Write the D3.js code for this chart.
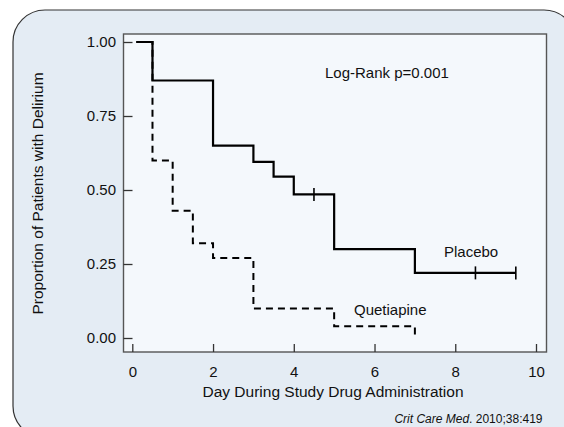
<!DOCTYPE html>
<html>
<head>
<meta charset="utf-8">
<script src="https://cdn.jsdelivr.net/npm/d3@7"></script>
<style>
    body { margin: 0; background: #fff; }
    text { font-family: Helvetica, Arial, "Liberation Sans", sans-serif; fill: #111; }
</style>
</head>
<body>
<div id="container"></div>
<script>
    // Kaplan-Meier steps
    const placeboDays = [0.1, 0.5, 2, 3, 3.5, 4, 5, 7, 9.5];
    const placeboProp = [1.0, 0.87, 0.65, 0.595, 0.545, 0.485, 0.30, 0.22, 0.22];
    const placeboCensorDays = [4.5, 8.5, 9.5];
    const placeboCensorProp = [0.485, 0.22, 0.22];

    const quetiapineDays = [0.1, 0.5, 1, 1.5, 2, 3, 5, 7];
    const quetiapineProp = [1.0, 0.60, 0.43, 0.32, 0.27, 0.10, 0.04, 0.0];

    const xTicks = [0, 2, 4, 6, 8, 10];
    const yTicks = [0, 0.25, 0.5, 0.75, 1];

    const width = 564, height = 427;

    const svg = d3.select("#container").append("svg")
        .attr("width", width)
        .attr("height", height);

    // rounded panel behind everything
    svg.append("rect")
        .attr("x", 13).attr("y", 10)
        .attr("width", 563).attr("height", 428)
        .attr("rx", 32).attr("ry", 32)
        .attr("fill", "#e4ecf4")
        .attr("stroke", "#333")
        .attr("stroke-width", 1.2);

    const frame = { left: 123.5, right: 546.5, top: 34, bottom: 352 };

    const x = d3.scaleLinear().domain([0, 10]).range([132.3, 536]);
    const y = d3.scaleLinear().domain([0, 1]).range([338, 42]);

    svg.append("rect")
        .attr("x", frame.left).attr("y", frame.top)
        .attr("width", frame.right - frame.left)
        .attr("height", frame.bottom - frame.top)
        .attr("fill", "#f4f8fc")
        .attr("stroke", "#555")
        .attr("stroke-width", 1.4);

    // axes, ticks pointing inward
    const yAxis = svg.append("g")
        .attr("transform", `translate(${frame.left},0)`)
        .call(d3.axisLeft(y).tickValues(yTicks).tickFormat(d3.format(".2f"))
            .tickSize(-9).tickPadding(7.5));
    const xAxis = svg.append("g")
        .attr("transform", `translate(0,${frame.bottom})`)
        .call(d3.axisBottom(x).tickValues(xTicks).tickFormat(d3.format("d"))
            .tickSize(-8).tickPadding(14));

    [xAxis, yAxis].forEach(g => {
        g.select(".domain").remove();
        g.selectAll(".tick line").attr("stroke", "#333").attr("stroke-width", 1.3);
        g.selectAll(".tick text")
            .style("font-size", "15px")
            .style("font-family", "Helvetica, Arial, 'Liberation Sans', sans-serif")
            .attr("fill", "#111");
    });

    const step = d3.line()
        .x(d => x(d[0]))
        .y(d => y(d[1]))
        .curve(d3.curveStepAfter);

    const quetiapine = quetiapineDays.map((d, i) => [d, quetiapineProp[i]]);
    const placebo = placeboDays.map((d, i) => [d, placeboProp[i]]);

    svg.append("path")
        .datum(quetiapine)
        .attr("d", step)
        .attr("fill", "none")
        .attr("stroke", "#000")
        .attr("stroke-width", 2)
        .attr("stroke-dasharray", "7,5");

    svg.append("path")
        .datum(placebo)
        .attr("d", step)
        .attr("fill", "none")
        .attr("stroke", "#000")
        .attr("stroke-width", 2.2);

    // censor marks
    svg.selectAll("line.censor")
        .data(placeboCensorDays.map((d, i) => [d, placeboCensorProp[i]]))
        .join("line")
        .attr("class", "censor")
        .attr("x1", d => x(d[0])).attr("x2", d => x(d[0]))
        .attr("y1", d => y(d[1]) - 6.5).attr("y2", d => y(d[1]) + 6.5)
        .attr("stroke", "#000")
        .attr("stroke-width", 1.6);

    // annotations
    svg.append("text")
        .attr("x", 325).attr("y", 78)
        .style("font-size", "15px")
        .text("Log-Rank p=0.001");

    svg.append("text")
        .attr("x", 444).attr("y", 257)
        .style("font-size", "15px")
        .text("Placebo");

    svg.append("text")
        .attr("x", 354).attr("y", 314.5)
        .style("font-size", "15px")
        .text("Quetiapine");

    svg.append("text")
        .attr("x", 333).attr("y", 397)
        .attr("text-anchor", "middle")
        .style("font-size", "15.5px")
        .text("Day During Study Drug Administration");

    svg.append("text")
        .attr("transform", "translate(43,193.5) rotate(-90)")
        .attr("text-anchor", "middle")
        .style("font-size", "15.5px")
        .text("Proportion of Patients with Delirium");

    const cite = svg.append("text")
        .attr("x", 542.5).attr("y", 423)
        .attr("text-anchor", "end")
        .style("font-size", "12px");
    cite.append("tspan").style("font-style", "italic").text("Crit Care Med");
    cite.append("tspan").text(". 2010;38:419");
</script>
</body>
</html>
